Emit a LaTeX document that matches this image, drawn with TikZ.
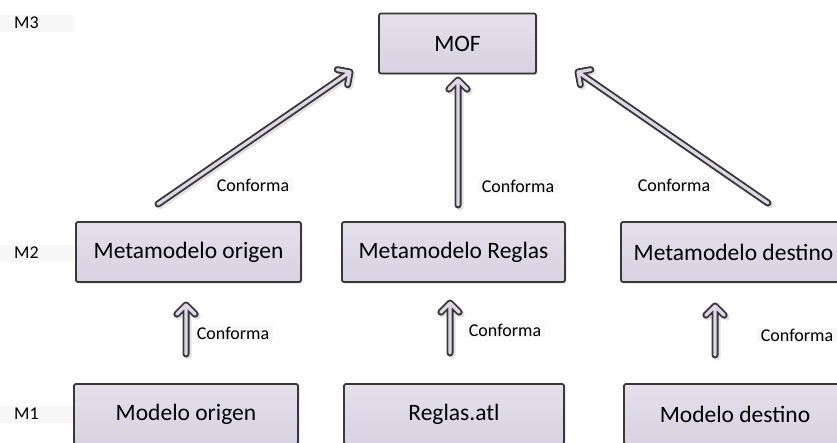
\documentclass[tikz,border=0pt]{standalone}
\usepackage{fontspec}
\setmainfont{Carlito}
\usetikzlibrary{calc,shadows}

\definecolor{boxtop}{HTML}{E4E1EC}
\definecolor{boxbot}{HTML}{D6D2E1}
\definecolor{edge}{HTML}{383838}
\definecolor{arrowin}{HTML}{DCD8E8}
\definecolor{shadowc}{HTML}{E2E2E2}
\definecolor{tagbg}{HTML}{F7F7F7}

\tikzset{
  level/.style={draw=edge, line width=1.8pt, rounded corners=2pt,
    top color=boxtop, bottom color=boxbot, inner sep=0pt,
    minimum height=60pt, font=\fontsize{23.5}{26}\selectfont,
    general shadow={fill=shadowc, shadow xshift=1.5pt, shadow yshift=-1.5pt}},
  tagbox/.style={fill=tagbg, inner sep=0pt, minimum height=17pt,
    font=\fontsize{18}{20}\selectfont},
  conf/.style={fill=tagbg, inner xsep=4pt, inner ysep=1pt,
    font=\fontsize{18}{20}\selectfont},
  hollow/.style={draw=arrowin, line width=3.2pt, line cap=round, line join=round,
    preaction={draw=shadowc, line width=7pt, line cap=round, line join=round,
      transform canvas={shift={(2pt,-2pt)}}},
    preaction={draw=edge, line width=7pt, line cap=round, line join=round}}
}

% hollow block arrow with a chevron head: #1 = tail, #2 = tip
\newcommand\hollowarrow[2]{%
  \draw[hollow] (#1) -- (#2)
    ($(#2)!13pt!45:(#1)$) -- (#2) -- ($(#2)!13pt!-45:(#1)$);}

\begin{document}
\begin{tikzpicture}[x=1pt,y=-1pt]
\useasboundingbox (0,0) rectangle (837,442);
\clip (0,0) rectangle (837,442);

% level tags
\node[tagbox, anchor=west, text width=74pt, align=left] (m3) at (0,23) {\hspace*{14pt}M3};
\node[tagbox, anchor=west, text width=74pt, align=left] (m2) at (0,253) {\hspace*{14pt}M2};
\node[tagbox, anchor=west, text width=74pt, align=left] (m1) at (0,414) {\hspace*{14pt}M1};

% M3
\node[level, minimum width=157pt] (mof) at (457.5,43.5) {MOF};

% M2
\node[level, minimum width=225pt] (mmo) at (188.5,252) {Metamodelo origen};
\node[level, minimum width=223pt] (mmr) at (453.5,252) {Metamodelo Reglas};
\node[level, minimum width=225pt] (mmd) at (733.5,252) {Metamodelo destino};

% M1
\node[level, minimum width=224pt] (mo) at (186,414) {Modelo origen};
\node[level, minimum width=220pt] (ra) at (454,414) {Reglas.atl};
\node[level, minimum width=222pt] (md) at (735,414) {Modelo destino};

% arrow end points
\coordinate (a1s) at (158,204);  \coordinate (a1e) at (350,72);
\coordinate (a2s) at (458,205);  \coordinate (a2e) at (458,80);
\coordinate (a3s) at (768,203);  \coordinate (a3e) at (578,72);
\coordinate (b1s) at (186,354);  \coordinate (b1e) at (186,305);
\coordinate (b2s) at (450,353);  \coordinate (b2e) at (450,303);
\coordinate (b3s) at (715,355);  \coordinate (b3e) at (715,306);

\hollowarrow{a1s}{a1e}
\hollowarrow{a2s}{a2e}
\hollowarrow{a3s}{a3e}
\hollowarrow{b1s}{b1e}
\hollowarrow{b2s}{b2e}
\hollowarrow{b3s}{b3e}

% labels
\node[conf] (c1) at (253,185) {Conforma};
\node[conf] (c2) at (518,186) {Conforma};
\node[conf] (c3) at (674,185) {Conforma};
\node[conf] (c4) at (233,333) {Conforma};
\node[conf] (c5) at (505,330) {Conforma};
\node[conf] (c6) at (797,335) {Conforma};
\end{tikzpicture}
\end{document}
